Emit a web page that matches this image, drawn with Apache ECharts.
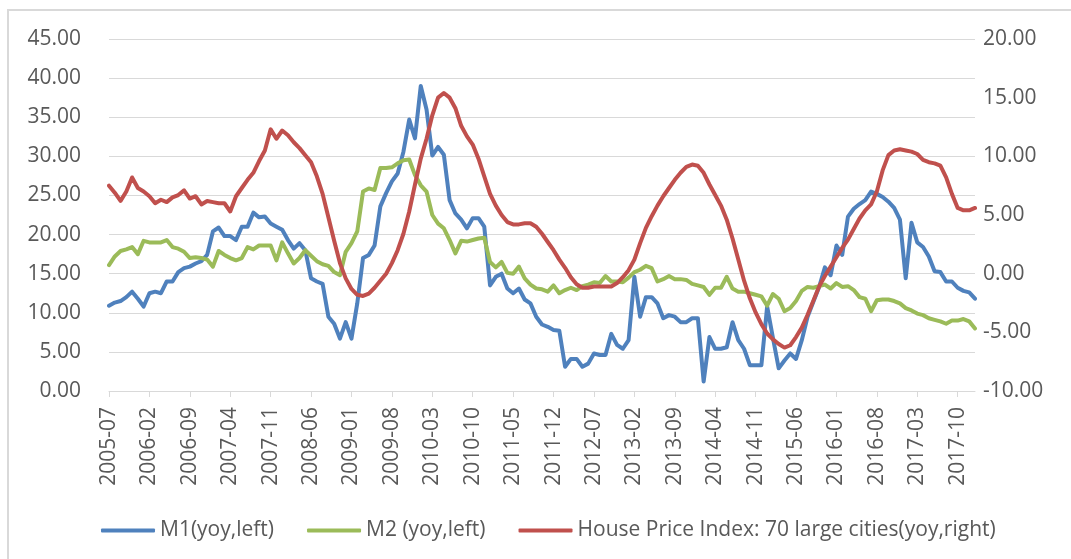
<!DOCTYPE html>
<html>
<head>
<meta charset="utf-8">
<script src="https://cdn.jsdelivr.net/npm/echarts@6/dist/echarts.min.js"></script>
<style>
html, body { margin: 0; padding: 0; background: #fff; }
#main { width: 1071px; height: 559px; }
</style>
</head>
<body>
<div id="main"></div>
<script>
// 月份 2005-07 ~ 2018-01
var months = [];
for (var y = 2005, m = 7; months.length < 151; m++) {
    if (m > 12) { m = 1; y++; }
    months.push(y + '-' + (m < 10 ? '0' + m : m));
}

// M1 同比(左轴)
var m1 = [10.9, 11.3, 11.5, 12.0, 12.7, 11.8, 10.8, 12.5, 12.7, 12.5,
    14.0, 14.0, 15.2, 15.7, 15.9, 16.3, 16.6, 17.4, 20.4, 20.9,
    19.8, 19.8, 19.3, 21.0, 21.0, 22.8, 22.2, 22.3, 21.4, 21.0,
    20.6, 19.3, 18.2, 18.9, 18.0, 14.4, 14.0, 13.7, 9.5, 8.6,
    6.7, 8.8, 6.7, 11.2, 17.0, 17.4, 18.6, 23.6, 25.3, 26.8,
    27.8, 30.6, 34.7, 32.3, 39.0, 36.0, 30.1, 31.2, 30.2, 24.4,
    22.7, 21.9, 20.8, 22.1, 22.1, 21.0, 13.5, 14.6, 15.0, 13.1,
    12.5, 13.1, 11.7, 11.2, 9.5, 8.5, 8.2, 7.8, 7.7, 3.1,
    4.1, 4.1, 3.1, 3.5, 4.8, 4.6, 4.6, 7.3, 5.9, 5.4,
    6.5, 14.6, 9.5, 12.0, 12.0, 11.2, 9.3, 9.7, 9.5, 8.8,
    8.8, 9.3, 9.3, 1.2, 6.9, 5.4, 5.4, 5.6, 8.8, 6.5,
    5.4, 3.3, 3.3, 3.3, 10.8, 6.8, 2.9, 3.9, 4.8, 4.1,
    6.5, 9.5, 11.4, 13.3, 15.8, 14.8, 18.6, 17.4, 22.3, 23.3,
    23.9, 24.4, 25.5, 25.2, 24.8, 24.2, 23.4, 21.9, 14.4, 21.5,
    19.0, 18.4, 17.2, 15.3, 15.2, 14.0, 14.0, 13.2, 12.8, 12.6,
    11.8];

// M2 同比(左轴)
var m2 = [16.1, 17.2, 17.9, 18.1, 18.4, 17.5, 19.2, 19.0, 19.0, 19.0,
    19.3, 18.4, 18.2, 17.8, 17.0, 17.1, 17.0, 16.8, 15.9, 17.9,
    17.4, 17.0, 16.7, 17.0, 18.4, 18.1, 18.6, 18.6, 18.6, 16.7,
    19.0, 17.6, 16.3, 17.0, 18.0, 17.3, 16.6, 16.2, 16.0, 15.2,
    14.8, 17.8, 18.9, 20.4, 25.5, 25.9, 25.7, 28.5, 28.5, 28.6,
    29.1, 29.5, 29.6, 27.6, 26.3, 25.5, 22.5, 21.4, 20.8, 19.3,
    17.6, 19.2, 19.1, 19.3, 19.5, 19.6, 16.5, 15.8, 16.5, 15.1,
    15.0, 15.9, 14.4, 13.6, 13.1, 13.0, 12.7, 13.5, 12.5, 12.9,
    13.2, 12.9, 13.4, 13.6, 13.9, 13.8, 14.7, 14.0, 14.0, 13.9,
    14.5, 15.2, 15.5, 16.0, 15.7, 14.0, 14.3, 14.7, 14.3, 14.3,
    14.2, 13.7, 13.5, 13.3, 12.3, 13.2, 13.2, 14.6, 13.1, 12.7,
    12.7, 12.5, 12.3, 12.1, 10.9, 12.4, 11.8, 10.2, 10.6, 11.5,
    12.8, 13.3, 13.2, 13.4, 13.6, 13.1, 13.8, 13.3, 13.4, 12.9,
    12.0, 11.8, 10.2, 11.6, 11.7, 11.7, 11.5, 11.2, 10.6, 10.3,
    9.9, 9.7, 9.3, 9.1, 8.9, 8.6, 9.0, 9.0, 9.2, 8.9,
    8.0];

// 70个大中城市房价指数同比(右轴)
var hpi = [7.5, 6.9, 6.2, 7.0, 8.2, 7.3, 7.0, 6.6, 6.0, 6.3,
    6.1, 6.5, 6.7, 7.1, 6.4, 6.6, 5.9, 6.2, 6.1, 6.0,
    6.0, 5.3, 6.6, 7.3, 8.0, 8.6, 9.6, 10.5, 12.3, 11.5,
    12.2, 11.8, 11.2, 10.7, 10.1, 9.5, 8.3, 6.8, 4.8, 2.8,
    0.9, -0.4, -1.3, -1.8, -1.9, -1.7, -1.2, -0.6, 0.0, 0.9,
    2.0, 3.4, 5.3, 7.6, 9.8, 11.5, 13.5, 15.0, 15.4, 15.0,
    14.1, 12.6, 11.7, 11.0, 9.8, 8.3, 6.8, 5.8, 5.0, 4.4,
    4.2, 4.2, 4.3, 4.3, 4.0, 3.4, 2.7, 2.0, 1.2, 0.5,
    -0.3, -0.9, -1.2, -1.2, -1.1, -1.1, -1.1, -1.1, -0.8, -0.3,
    0.3, 1.2, 2.6, 3.9, 4.9, 5.8, 6.6, 7.3, 8.0, 8.6,
    9.1, 9.3, 9.2, 8.6, 7.6, 6.7, 5.8, 4.6, 3.0, 1.2,
    -0.6, -2.1, -3.3, -4.3, -5.1, -5.6, -6.0, -6.3, -6.1, -5.4,
    -4.6, -3.5, -2.3, -1.1, -0.2, 0.6, 1.4, 2.2, 2.9, 3.8,
    4.7, 5.4, 5.9, 7.0, 8.8, 10.1, 10.5, 10.6, 10.5, 10.4,
    10.2, 9.7, 9.5, 9.4, 9.2, 8.2, 6.8, 5.6, 5.4, 5.4,
    5.6];

var names = ['M1(yoy,left)', 'M2 (yoy,left)', 'House Price Index: 70 large cities(yoy,right)'];
var colors = ['#4F81BD', '#9BBB59', '#C0504D'];

var font = 'Open Sans';
var textcolor = '#595959';

function linedemo(name, data, color, yIndex) {//线形图统一样式
    return {
        name: name,
        type: 'line',
        yAxisIndex: yIndex,
        data: data,
        symbol: 'none',
        smooth: false,
        lineStyle: { color: color, width: 4, cap: 'round', join: 'round' },
        itemStyle: { color: color }
    };
}

var myChart = echarts.init(document.getElementById('main'));
var option = {
    backgroundColor: '#fff',
    animation: false,
    graphic: [{
        type: 'rect',
        shape: { x: 8, y: 10, width: 1100, height: 600 },
        style: { fill: 'none', stroke: '#d9d9d9', lineWidth: 2 },
        z: -1
    }],
    grid: { left: 109, right: 96, top: 39, bottom: 168, containLabel: false },
    legend: {
        data: names,
        left: 96,
        top: 515,
        icon: 'roundRect',
        itemWidth: 54,
        itemHeight: 4,
        itemGap: 33,
        textStyle: { fontFamily: font, fontSize: 21, color: textcolor }
    },
    xAxis: {
        type: 'category',
        data: months,
        boundaryGap: false,
        axisLine: { lineStyle: { color: '#d9d9d9', width: 1 } },
        axisTick: { interval: 6, length: 6, lineStyle: { color: '#d9d9d9' } },
        axisLabel: {
            interval: 6, rotate: 90, margin: 16,
            fontFamily: font, fontSize: 21, color: textcolor
        },
        splitLine: { show: false }
    },
    yAxis: [{
        type: 'value',
        min: 0, max: 45, interval: 5,
        axisLine: { show: false },
        axisTick: { show: false },
        splitLine: { lineStyle: { color: '#d9d9d9', width: 1 } },
        axisLabel: {
            margin: 28, fontFamily: font, fontSize: 21, color: textcolor,
            formatter: function (v) { return v.toFixed(2); }
        }
    }, {
        type: 'value',
        min: -10, max: 20, interval: 5,
        axisLine: { show: false },
        axisTick: { show: false },
        splitLine: { show: false },
        axisLabel: {
            margin: 8, fontFamily: font, fontSize: 21, color: textcolor,
            formatter: function (v) { return v.toFixed(2); }
        }
    }],
    series: [
        linedemo(names[0], m1, colors[0], 0),
        linedemo(names[1], m2, colors[1], 0),
        linedemo(names[2], hpi, colors[2], 1)
    ]
};
myChart.setOption(option);
</script>
</body>
</html>
